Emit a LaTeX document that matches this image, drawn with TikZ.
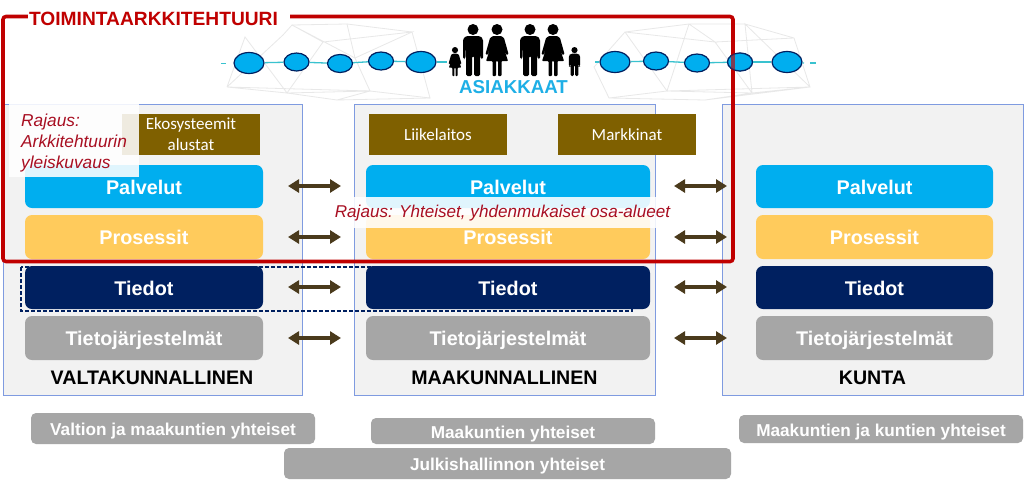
\documentclass[tikz,border=0pt]{standalone}
\usepackage{fontspec}
\setmainfont{Liberation Sans}
\newfontfamily\carl{Carlito}
\usetikzlibrary{arrows.meta,shapes.geometric}
\definecolor{panelgray}{HTML}{F2F2F2}
\definecolor{panelblue}{HTML}{7F9BE0}
\definecolor{palblue}{HTML}{00AEEF}
\definecolor{proyel}{HTML}{FFCB5C}
\definecolor{tienavy}{HTML}{002060}
\definecolor{sysgray}{HTML}{A6A6A6}
\definecolor{brownbox}{HTML}{7F6000}
\definecolor{arrowbrown}{HTML}{4A3A1C}
\definecolor{framered}{HTML}{C00000}
\definecolor{notered}{HTML}{A80F22}
\definecolor{netgray}{HTML}{E8E8E8}
\definecolor{teal1}{HTML}{39C2CF}
\tikzset{
  panel/.style={draw=panelblue,fill=panelgray,line width=1pt},
  lay/.style 2 args={rounded corners=7pt,inner sep=0pt,minimum width=#1,minimum height=#2,text=white,text height=15pt,text depth=0pt,font=\fontsize{19.8}{22}\selectfont\bfseries,anchor=center},
  brownb/.style={fill=brownbox,inner sep=0pt,minimum width=138pt,minimum height=41pt,text=white,align=center,font=\carl\fontsize{17}{21}\selectfont},
  lvl/.style={font=\fontsize{19.6}{22}\selectfont\bfseries,text=black,inner sep=0pt},
  foot/.style={fill=sysgray,rounded corners=5pt,inner sep=0pt,text=white,text height=14pt,text depth=0pt,font=\fontsize{17.2}{19}\selectfont\bfseries},
  dbl/.style={arrowbrown,line width=3.2pt,{Triangle[length=11pt,width=13pt]}-{Triangle[length=11pt,width=13pt]}},
  net/.style={draw=netgray,line width=.8pt},
  dotb/.style={ellipse,draw=tienavy,fill=palblue,line width=1.2pt,inner sep=0pt},
  big/.style={dotb,minimum width=30pt,minimum height=21pt},
  small/.style={dotb,minimum width=25pt,minimum height=18pt},
  man/.pic={\fill (0,5.5) circle (5.5);
    \fill[rounded corners=1.5pt] (-7,12)--(7,12)--(10,15)--(10,35)--(7.6,35)--(7,20)--(7,52)--(1,52)--(1,32)--(-1,32)--(-1,52)--(-7,52)--(-7,20)--(-7.6,35)--(-10,35)--(-10,15)--cycle;},
  woman/.pic={\fill (0,5.5) circle (5.5);
    \fill[rounded corners=.8pt] (-4,12)--(4,12)--(7,14)--(11.5,30)--(9.5,31)--(5,19)--(11,37)--(4.5,37)--(4.5,52)--(1,52)--(1,37)--(-1,37)--(-1,52)--(-4.5,52)--(-4.5,37)--(-11,37)--(-5,19)--(-9.5,31)--(-11.5,30)--(-7,14)--cycle;}
}
\begin{document}
\begin{tikzpicture}[x=1pt,y=-1pt]
\useasboundingbox (0,0) rectangle (1024,485);
\fill[white] (0,0) rectangle (1024,485);
% panels
\draw[panel] (3,104) rectangle (302,395);
\draw[panel] (354,104) rectangle (655,395);
\draw[panel] (722,104) rectangle (1023,395);
% network mesh
\coordinate (n1) at (227,87); \coordinate (n2) at (245,37); \coordinate (n3) at (283,35);
\coordinate (n4) at (287,93); \coordinate (n5) at (292,25); \coordinate (n6) at (337,100);
\coordinate (n7) at (347,24); \coordinate (n8) at (370,91); \coordinate (n9) at (412,32);
\coordinate (n10) at (430,98); \coordinate (n11) at (355,58); \coordinate (n12) at (323,42);
\coordinate (m1) at (594,67); \coordinate (m2) at (625,32); \coordinate (m3) at (609,98);
\coordinate (m4) at (667,91); \coordinate (m5) at (689,24); \coordinate (m6) at (715,42);
\coordinate (m7) at (745,24); \coordinate (m8) at (794,38); \coordinate (m9) at (810,87);
\coordinate (m10) at (752,93); \coordinate (m11) at (705,100);
\draw[net] (n1)--(n2)--(n4)--(n1)--(n8)--(n10)--(n9)--(n7)--(n5)--(n3)--(n1);
\draw[net] (n5)--(n11)--(n8)--(n4)--(n6)--(n8) (n6)--(n10) (n12)--(n9)--(n11)--(n7) (n12)--(n4) (n5)--(n12);
\draw[net] (m1)--(m2)--(m6)--(m5)--(m2) (m1)--(m3)--(m11)--(m10)--(m9)--(m8)--(m7)--(m5) (m3)--(m4)--(m10)--(m7)--(m9) (m2)--(m4)--(m5) (m4)--(m9) (m6)--(m10) (m11)--(m9) (m6)--(m8);
% customer chain
\node[big] (e1) at (249,63) {};
\node[small] (e2) at (296.5,62) {};
\node[small] (e3) at (340,63.5) {};
\node[small] (e4) at (381,61) {};
\node[big] (e5) at (421,62) {};
\node[big] (e6) at (615,62) {};
\node[small] (e7) at (656,61) {};
\node[small] (e8) at (697,63) {};
\node[small] (e9) at (740,62) {};
\node[big] (e10) at (787,62) {};
\coordinate (lineL) at (221,63.5);
\coordinate (lineLb) at (226,63.5);
\coordinate (lineM) at (447,62);
\coordinate (lineMc) at (595,62);
\coordinate (lineR) at (816,63);
\coordinate (lineRb) at (810,63);
\coordinate (lineRc) at (804,63);
\begin{scope}[teal1,line width=1.3pt]
\draw (lineL)--(lineLb);
\draw (e1)--(e2); \draw (e2)--(e3); \draw (e3)--(e4); \draw (e4)--(e5);
\draw (e6)--(e7); \draw (e7)--(e8); \draw (e8)--(e9); \draw (e9)--(e10);
\draw (e5)--(lineM); \draw (lineMc)--(e6);
\draw (e10)--(lineRc); \draw (lineRb)--(lineR);
\end{scope}
% people
\pic[black,scale=.56] at (455,47) {woman};
\pic[black] at (473,24) {man};
\pic[black] at (497,24) {woman};
\pic[black] at (530,24) {man};
\pic[black] at (553,24) {woman};
\pic[black,scale=.56] at (574.5,47) {man};
\node[inner sep=0pt,text={rgb,255:red,30;green,175;blue,230},font=\fontsize{18.7}{20}\selectfont\bfseries] (asiakkaat) at (513.5,87) {ASIAKKAAT};
% brown boxes
\node[brownb] (eko) at (191,134.5) {Ekosysteemit\\alustat};
\node[brownb] (liike) at (438,134.5) {Liikelaitos};
\node[brownb] (mark) at (627,134.5) {Markkinat};
% dashed outline
\draw[tienavy,line width=1.2pt,dash pattern=on 4pt off 2pt] (21,267) rectangle (632,311);
% layers
\foreach \n/\cx/\w in {a/144/238,b/508/284,c/874.5/237}{
  \node[lay={\w pt}{43pt},fill=palblue] (pal\n) at (\cx,186.5) {Palvelut};
  \node[lay={\w pt}{44pt},fill=proyel] (pro\n) at (\cx,237) {Prosessit};
  \node[lay={\w pt}{43pt},fill=tienavy] (tie\n) at (\cx,287.5) {Tiedot};
  \node[lay={\w pt}{44pt},fill=sysgray] (sys\n) at (\cx,338) {Tietojärjestelmät};
}
% arrows
\foreach \y/\k in {186/pal,237/pro,287/tie,338/sys}{
  \coordinate (\k L1) at (288,\y); \coordinate (\k L2) at (341,\y);
  \coordinate (\k R1) at (674,\y); \coordinate (\k R2) at (727,\y);
  \draw[dbl] (\k L1)--(\k L2);
  \draw[dbl] (\k R1)--(\k R2);
}
% level labels
\node[lvl] (valta) at (152,378) {VALTAKUNNALLINEN};
\node[lvl] (maak) at (504.5,378) {MAAKUNNALLINEN};
\node[lvl] (kunta) at (872.5,378) {KUNTA};
% footers
\node[foot,minimum width=284pt,minimum height=31pt] (f1) at (173,428.5) {Valtion ja maakuntien yhteiset};
\node[foot,minimum width=284pt,minimum height=26pt] (f2) at (513,431) {Maakuntien yhteiset};
\node[foot,minimum width=284pt,minimum height=28pt] (f3) at (881,429) {Maakuntien ja kuntien yhteiset};
\node[foot,minimum width=447pt,minimum height=31pt] (f4) at (507.5,463.5) {Julkishallinnon yhteiset};
% red frame
\draw[framered,line width=3.6pt,rounded corners=3pt] (3,16.5) rectangle (733,261.5);
\node[fill=white,inner sep=0pt,minimum width=262pt,minimum height=14pt] (titlebg) at (159,17) {};
\node[inner sep=0pt,text=framered,font=\fontsize{19.2}{22}\selectfont\bfseries] (title) at (153.5,18.5) {TOIMINTAARKKITEHTUURI};
\node[small,fill opacity=.35,draw opacity=.6] (e9b) at (740,62) {};
% notes
\fill[white,fill opacity=.88] (9,104) rectangle (139,177);
\node[inner sep=0pt,text=notered,align=left,anchor=north west,font=\fontsize{17.3}{21.3}\selectfont\itshape] (rajaus1) at (21,113.5) {Rajaus:\\Arkkitehtuurin\\yleiskuvaus};
\fill[white,fill opacity=.88] (335,197) rectangle (672,228);
\node[inner sep=0pt,text=notered,font=\fontsize{17.1}{20}\selectfont\itshape] (rajaus2) at (502.5,213) {Rajaus: Yhteiset, yhdenmukaiset osa-alueet};
\end{tikzpicture}
\end{document}
